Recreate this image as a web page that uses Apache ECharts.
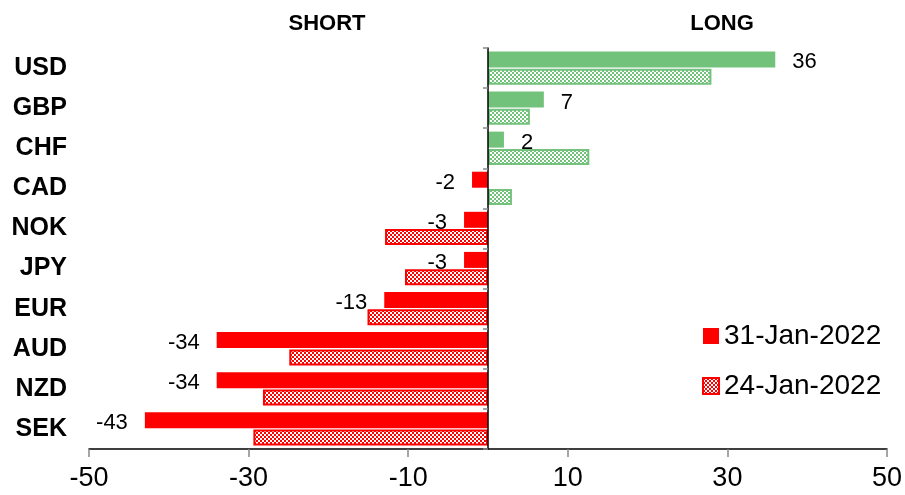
<!DOCTYPE html>
<html>
<head>
<meta charset="utf-8">
<script src="https://cdn.jsdelivr.net/npm/echarts@6/dist/echarts.min.js"></script>
<style>html,body{margin:0;padding:0;background:#fff}#c{width:905px;height:495px}</style>
</head>
<body>
<div id="c"></div>
<script>
const categories = ['USD','GBP','CHF','CAD','NOK','JPY','EUR','AUD','NZD','SEK'];
const jan31 = [36, 7, 2, -2, -3, -3, -13, -34, -34, -43];
const jan24 = [28, 5.25, 12.7, 3, -12.9, -10.4, -15.1, -24.9, -28.2, -29.4];
const xTicks = [-50, -30, -10, 10, 30, 50];
const seriesNames = ['31-Jan-2022', '24-Jan-2022'];
const sideTitles = ['SHORT', 'LONG'];

const GREEN = '#72C27C';
const RED = '#FF0000';
const FONT = 'Liberation Sans';

function checker(color) {
  const c = document.createElement('canvas');
  c.width = 4; c.height = 4;
  const g = c.getContext('2d');
  g.fillStyle = '#ffffff'; g.fillRect(0, 0, 4, 4);
  g.fillStyle = color;
  g.fillRect(0, 0, 2, 2); g.fillRect(2, 2, 2, 2);
  return c;
}
const patGreen = { image: checker(GREEN), repeat: 'repeat' };
const patRed = { image: checker(RED), repeat: 'repeat' };

const chart = echarts.init(document.getElementById('c'), null, { renderer: 'canvas' });

const option = {
  animation: false,
  textStyle: { fontFamily: FONT },
  title: [
    { text: sideTitles[0], left: 322, top: 8, textAlign: 'center',
      textStyle: { fontFamily: FONT, fontWeight: 'bold', fontSize: 22, color: '#000' } },
    { text: sideTitles[1], left: 717, top: 8, textAlign: 'center',
      textStyle: { fontFamily: FONT, fontWeight: 'bold', fontSize: 22, color: '#000' } }
  ],
  legend: {
    orient: 'vertical', left: 697, top: 316,
    icon: 'rect',
    itemWidth: 16, itemHeight: 16, itemGap: 20,
    textStyle: { fontFamily: FONT, fontSize: 28, color: '#000', lineHeight: 30 },
    data: seriesNames
  },
  grid: { left: 89, right: 18, top: 48, bottom: 46, containLabel: false },
  xAxis: {
    type: 'value', min: -50, max: 50,
    axisLine: { show: true, onZero: false, lineStyle: { color: '#000', width: 1.5 } },
    axisTick: { show: true, customValues: xTicks, length: 8, lineStyle: { color: '#888', width: 1.5 } },
    axisLabel: { customValues: xTicks, fontSize: 27, color: '#000', margin: 16, fontFamily: FONT },
    splitLine: { show: false }
  },
  yAxis: [
    {
      type: 'category', data: categories, inverse: true,
      axisLine: { show: false, onZero: false },
      axisTick: { show: false },
      axisLabel: { fontSize: 25, fontWeight: 'bold', color: '#000', margin: 22, fontFamily: FONT },
      splitLine: { show: false }
    },
    {
      type: 'category', data: categories, inverse: true, position: 'left', z: 10,
      axisLine: { show: true, onZero: true, lineStyle: { color: '#000', width: 1.5 } },
      axisTick: { show: true, length: 5, lineStyle: { color: '#888', width: 1.5 } },
      axisLabel: { show: false },
      splitLine: { show: false }
    }
  ],
  series: [
    {
      name: seriesNames[0], type: 'bar', yAxisIndex: 0,
      barWidth: 16, barGap: '8%',
      itemStyle: { color: RED },
      data: jan31.map(v => ({
        value: v,
        itemStyle: { color: v >= 0 ? GREEN : RED },
        label: { position: v >= 0 ? 'right' : 'left' }
      })),
      label: { show: true, distance: 17, fontSize: 22, color: '#000', fontFamily: FONT, offset: [0, 3] }
    },
    {
      name: seriesNames[1], type: 'bar', yAxisIndex: 0,
      barWidth: 16, barGap: '8%',
      itemStyle: { color: patRed, borderColor: RED, borderWidth: 2 },
      data: jan24.map(v => ({
        value: v,
        itemStyle: { color: v >= 0 ? patGreen : patRed, borderColor: v >= 0 ? GREEN : RED, borderWidth: 2 }
      }))
    }
  ]
};
chart.setOption(option);
</script>
</body>
</html>
